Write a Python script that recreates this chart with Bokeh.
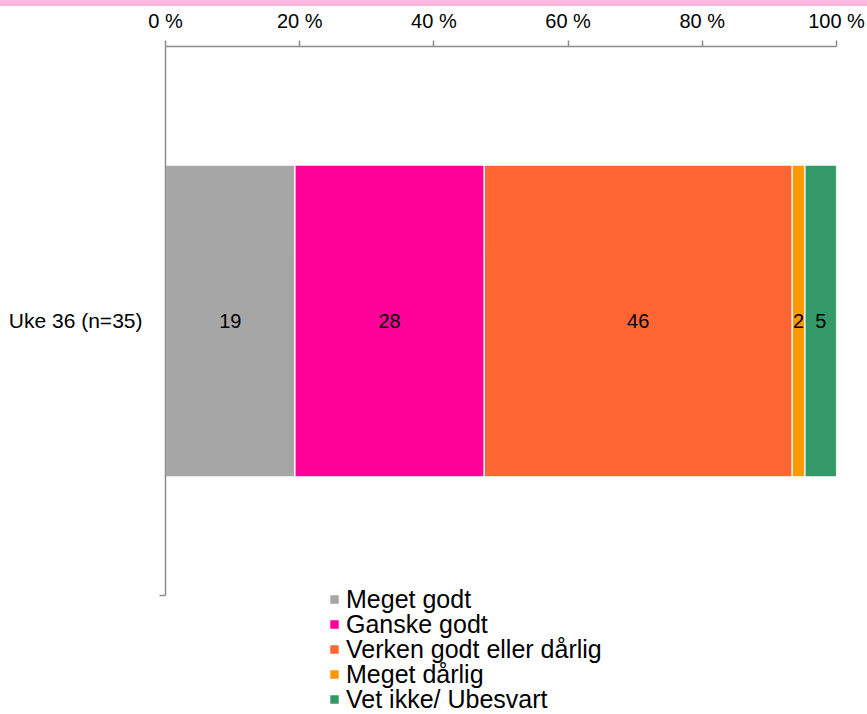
from bokeh.plotting import figure
from bokeh.models import (ColumnDataSource, Range1d, FixedTicker, Legend, LegendItem, Div)
from bokeh.layouts import column
from bokeh.core.properties import value
from bokeh.embed import file_html
from bokeh.resources import INLINE

# ---- data ----
category = "Uke 36 (n=35)"
series = ["Meget godt", "Ganske godt", "Verken godt eller dårlig", "Meget dårlig", "Vet ikke/ Ubesvart"]
shares = [19.3, 28.2, 45.9, 1.9, 4.7]
shown_labels = ["19", "28", "46", "2", "5"]
colors = ["#A6A6A6", "#FF0099", "#FF6633", "#FF9900", "#339966"]
x_ticks = [0, 20, 40, 60, 80, 100]
x_tick_labels = ["0 %", "20 %", "40 %", "60 %", "80 %", "100 %"]

FONT = "Liberation Sans"
W = 867

strip = Div(width=W, height=6, margin=0, styles={"background-color": "#FFB9E0"})

p = figure(width=W, height=708, output_backend="svg", toolbar_location=None,
           x_range=Range1d(0, 100), y_range=Range1d(-0.2168, 1),
           x_axis_location="above", margin=0,
           min_border_left=165, min_border_right=31, min_border_top=40, min_border_bottom=0)
p.outline_line_color = None
p.xgrid.visible = False
p.ygrid.visible = False

# stacked bar
lefts = []
acc = 0.0
for v in shares:
    lefts.append(acc)
    acc += v
rights = [l + v for l, v in zip(lefts, shares)]
mids = [(l + r) / 2 for l, r in zip(lefts, rights)]

renderers = []
for i, name in enumerate(series):
    src = ColumnDataSource(dict(y=[0.5], left=[lefts[i]], right=[rights[i]]))
    r = p.hbar(y="y", left="left", right="right", height=0.568, source=src,
               fill_color=colors[i], line_color="white", line_width=1.2)
    renderers.append(r)

lab_src = ColumnDataSource(dict(x=mids, y=[0.5] * len(mids), t=shown_labels))
p.text(x="x", y="y", text="t", source=lab_src, text_align="center", text_baseline="middle",
       text_font=value(FONT), text_font_size="20px", text_color="black")

# x axis (top)
ax = p.xaxis[0]
ax.ticker = FixedTicker(ticks=x_ticks)
ax.major_label_overrides = {t: l for t, l in zip(x_ticks, x_tick_labels)}
ax.axis_line_color = "#8c8c8c"
ax.axis_line_width = 1.5
ax.major_tick_line_color = "#8c8c8c"
ax.major_tick_line_width = 1.5
ax.major_tick_out = 6
ax.major_tick_in = 0
ax.minor_tick_line_color = None
ax.major_label_text_font = FONT
ax.major_label_text_font_size = "20px"
ax.major_label_text_color = "black"
ax.major_label_standoff = 9

# y axis (only spans the category band 0..1)
ay = p.yaxis[0]
ay.bounds = (0, 1)
ay.ticker = FixedTicker(ticks=[0.5], minor_ticks=[0])
ay.major_label_overrides = {0.5: category}
ay.axis_line_color = "#8c8c8c"
ay.axis_line_width = 1.5
ay.major_tick_out = 0
ay.major_tick_in = 0
ay.minor_tick_out = 6
ay.minor_tick_in = 0
ay.minor_tick_line_color = "#8c8c8c"
ay.minor_tick_line_width = 1.5
ay.major_label_text_font = FONT
ay.major_label_text_font_size = "21px"
ay.major_label_text_color = "black"
ay.major_label_standoff = 17

# legend: one single-item legend per row so the rows can sit tightly (25px apart)
row_offsets = [100, 75, 50, 25, 0]   # screen px above the bottom of the plot area
for name, r, off in zip(series, renderers, row_offsets):
    lg = Legend(items=[LegendItem(label=name, renderers=[r])], location=(163, off),
                orientation="vertical",
                label_text_font=FONT, label_text_font_size="25px", label_text_color="black",
                glyph_width=12, glyph_height=12, label_height=30, label_standoff=6,
                spacing=0, padding=0, margin=0, border_line_color=None,
                background_fill_alpha=0)
    p.add_layout(lg, "center")

layout = column(strip, p, spacing=0)
open("out.html", "w").write(file_html(layout, INLINE))
